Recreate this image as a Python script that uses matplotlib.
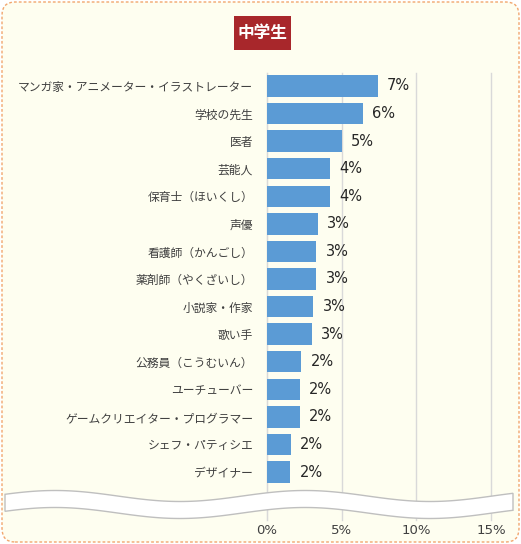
import numpy as np
import matplotlib
matplotlib.use('Agg')
import matplotlib.pyplot as plt
from matplotlib.patches import FancyBboxPatch, Polygon, Rectangle

plt.rcParams['font.family'] = ['Noto Sans CJK JP', 'DejaVu Sans']

# data (percent)
jobs = ['マンガ家・アニメーター・イラストレーター', '学校の先生', '医者', '芸能人',
        '保育士（ほいくし）', '声優', '看護師（かんごし）', '薬剤師（やくざいし）',
        '小説家・作家', '歌い手', '公務員（こうむいん）', 'ユーチューバー',
        'ゲームクリエイター・プログラマー', 'シェフ・パティシエ', 'デザイナー']
share = [7.4, 6.4, 5.0, 4.2, 4.2, 3.4, 3.3, 3.3, 3.1, 3.0, 2.3, 2.2, 2.2, 1.6, 1.55]
xticks = [0, 5, 10, 15]
xtick_labels = ['0%', '5%', '10%', '15%']
title = '中学生'

W, H = 521, 544
bg = '#FEFEF0'
fig = plt.figure(figsize=(W / 100, H / 100), dpi=100)
fig.patch.set_facecolor('white')

# rounded dashed frame
frame = FancyBboxPatch((2 / W, 2 / H), 517 / W, 540 / H,
                       boxstyle='round,pad=0,rounding_size=0.025',
                       transform=fig.transFigure, facecolor=bg,
                       edgecolor='#F2A66E', linestyle=(0, (2, 1.5)), linewidth=1,
                       zorder=-10)
fig.patches.append(frame)

ax = fig.add_axes([267 / W, 1 - 520 / H, (491 - 267) / W, (520 - 73) / H])
ax.set_facecolor('none')
y = np.arange(len(jobs))
ax.barh(y, share, height=0.78, color='#5B9BD5', zorder=3)
for yi, v in zip(y, share):
    ax.text(v + 0.62, yi, f'{int(v + 0.5)}%', va='center', ha='left',
            fontsize=10.5, color='#262626', family=['DejaVu Sans'])

ax.set_xlim(0, 15)
ax.set_ylim(15.74, -0.47)
ax.set_xticks(xticks)
ax.set_xticklabels(xtick_labels, fontsize=9.5, color='#404040', family=['DejaVu Sans'])
ax.set_yticks(y)
ax.set_yticklabels(jobs, fontsize=8.5, color='#404040')
ax.tick_params(axis='both', length=0)
ax.tick_params(axis='y', pad=10)
ax.tick_params(axis='x', pad=3)
ax.grid(axis='x', color='#D9D9D9', linewidth=1, zorder=0)
for gl in ax.get_xgridlines():
    gl.set_clip_on(False)
for s in ['top', 'right', 'bottom']:
    ax.spines[s].set_visible(False)
ax.spines['left'].set_color('#D9D9D9')

# wavy break band
xs = np.linspace(5, 513, 200)
top = 496 - 5.5 * np.cos(2 * np.pi * (xs - 55) / 250)
bot = top + 17
pts = np.concatenate([np.column_stack([xs, top]), np.column_stack([xs[::-1], bot[::-1]])])
pts[:, 0] /= W
pts[:, 1] = 1 - pts[:, 1] / H
fig.patches.append(Polygon(pts, closed=True, transform=fig.transFigure,
                           facecolor='white', edgecolor='#BFBFBF', linewidth=1, zorder=5))

# title box
fig.patches.append(Rectangle((234 / W, 1 - 50 / H), 57 / W, 34 / H,
                             transform=fig.transFigure, facecolor='#A8272B',
                             edgecolor='none'))
fig.text(262.5 / W, 1 - 33 / H, title, ha='center', va='center', fontsize=12,
         fontweight='bold', color='white')

fig.savefig('out.png', dpi=100, facecolor='white')
